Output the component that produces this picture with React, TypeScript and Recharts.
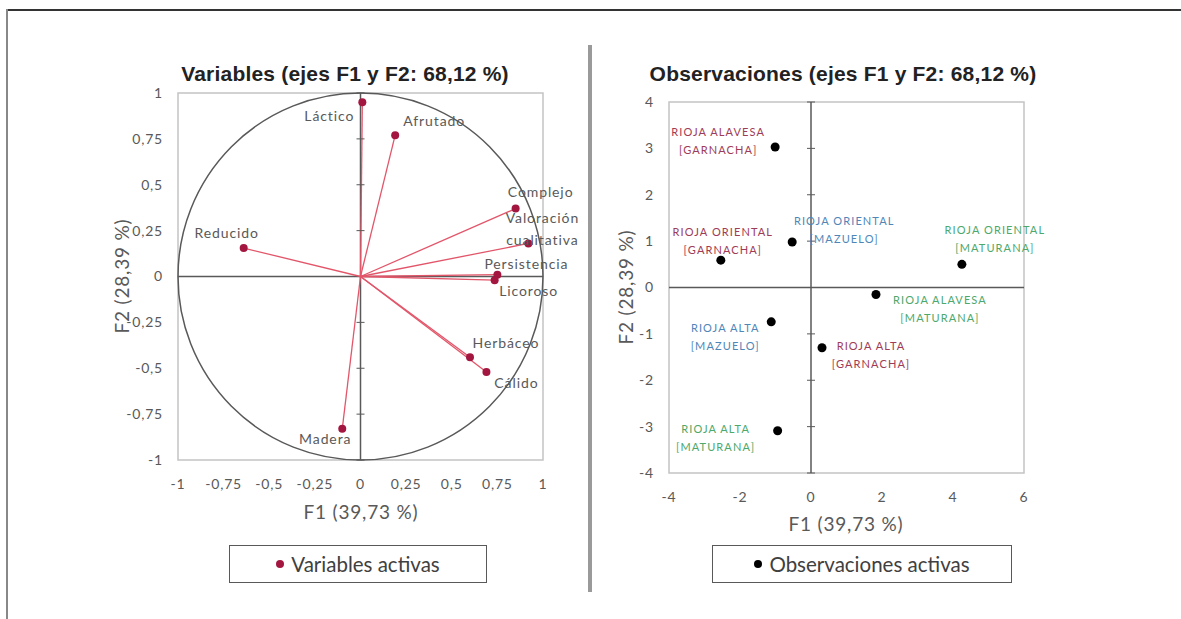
import { ScatterChart, Scatter, XAxis, YAxis, ReferenceLine, ReferenceArea, ReferenceDot } from 'recharts'

// PCA circle of correlations (variables)
const variableNames = ['Láctico', 'Afrutado', 'Complejo', 'Valoración cualitativa', 'Persistencia', 'Licoroso', 'Reducido', 'Herbáceo', 'Cálido', 'Madera']
const variableF1 = [0.01, 0.19, 0.85, 0.92, 0.75, 0.735, -0.64, 0.6, 0.69, -0.1]
const variableF2 = [0.95, 0.77, 0.37, 0.18, 0.01, -0.02, 0.155, -0.44, -0.52, -0.83]

// observations (wines)
const obsRegions = ['RIOJA ALAVESA', 'RIOJA ORIENTAL', 'RIOJA ORIENTAL', 'RIOJA ORIENTAL', 'RIOJA ALAVESA', 'RIOJA ALTA', 'RIOJA ALTA', 'RIOJA ALTA']
const obsVarieties = ['GARNACHA', 'GARNACHA', 'MAZUELO', 'MATURANA', 'MATURANA', 'MAZUELO', 'GARNACHA', 'MATURANA']
const obsF1 = [-1.01, -2.54, -0.53, 4.25, 1.83, -1.12, 0.31, -0.94]
const obsF2 = [3.03, 0.59, 0.98, 0.5, -0.15, -0.74, -1.3, -3.09]

const varTicks = [-1, -0.75, -0.5, -0.25, 0, 0.25, 0.5, 0.75, 1]
const obsXTicks = [-4, -2, 0, 2, 4, 6]
const obsYTicks = [-4, -3, -2, -1, 0, 1, 2, 3, 4]

const TITLE_LEFT = 'Variables (ejes F1 y F2: 68,12 %)'
const TITLE_RIGHT = 'Observaciones (ejes F1 y F2: 68,12 %)'
const X_TITLE = 'F1 (39,73 %)'
const Y_TITLE = 'F2 (28,39 %)'

const varData = variableNames.map((name, i) => ({ name, x: variableF1[i], y: variableF2[i] }))
const obsData = obsRegions.map((region, i) => ({
  region,
  variety: obsVarieties[i],
  x: obsF1[i],
  y: obsF2[i],
}))

// label placement relative to the dot (style, not data)
const varLabelPos: Record<string, [number, number]> = {
  'Láctico': [-33, 13],
  'Afrutado': [39, -15],
  'Complejo': [25, -17],
  'Valoración cualitativa': [14, -26],
  'Persistencia': [29, -11],
  'Licoroso': [34, 10],
  'Reducido': [-17, -16],
  'Herbáceo': [36, -15],
  'Cálido': [30, 11],
  'Madera': [-17, 10],
}
const obsLabelPos: Record<string, [number, number]> = {
  'RIOJA ALAVESA GARNACHA': [-57, -15],
  'RIOJA ORIENTAL GARNACHA': [2, -29],
  'RIOJA ORIENTAL MAZUELO': [52, -22],
  'RIOJA ORIENTAL MATURANA': [33, -35],
  'RIOJA ALAVESA MATURANA': [64, 5],
  'RIOJA ALTA MAZUELO': [-46, 6],
  'RIOJA ALTA GARNACHA': [49, -2],
  'RIOJA ALTA MATURANA': [-62, -2],
}
const varietyColors: Record<string, string> = {
  GARNACHA: '#9E3B56',
  MAZUELO: '#4F86B8',
  MATURANA: '#4DA86B',
}

const GRAY = '#595959'
const FONT = 'Lato, "Open Sans", sans-serif'
const fmt = (v: number) => String(v).replace('.', ',')

const VarDot = (props: any) => {
  const { cx, cy, payload } = props
  const [dx, dy] = varLabelPos[payload.name] || [0, 0]
  const lines = payload.name.split(' ')
  return (
    <g>
      <circle cx={cx} cy={cy} r={4} fill="#A3163F" />
      {lines.map((l: string, i: number) => (
        <text key={i} x={cx + dx} y={cy + dy + i * 22} textAnchor="middle" dominantBaseline="central"
          fontSize={14} letterSpacing={0.9} fill={GRAY} fontFamily={FONT}>{l}</text>
      ))}
    </g>
  )
}

const ObsDot = (props: any) => {
  const { cx, cy, payload } = props
  const [dx, dy] = obsLabelPos[`${payload.region} ${payload.variety}`] || [0, 0]
  const color = varietyColors[payload.variety]
  return (
    <g>
      <circle cx={cx} cy={cy} r={4.5} fill="#000" />
      <text x={cx + dx} y={cy + dy} textAnchor="middle" dominantBaseline="central" fontSize={11}
        letterSpacing={1.1} fill={color} fontFamily={FONT}>{payload.region}</text>
      <text x={cx + dx} y={cy + dy + 18} textAnchor="middle" dominantBaseline="central" fontSize={11}
        letterSpacing={1.1} fill={color} fontFamily={FONT}>[{payload.variety}]</text>
    </g>
  )
}

const axisTick = { fill: GRAY, fontSize: 14, fontFamily: FONT, letterSpacing: 0.8 }

const Legend = ({ left, width, color, label }: { left: number; width: number; color: string; label: string }) => (
  <div style={{
    position: 'absolute', left, top: 545, width, height: 38, boxSizing: 'border-box',
    border: `1.5px solid ${GRAY}`, display: 'flex', alignItems: 'center', justifyContent: 'center',
    fontFamily: FONT, fontSize: 20.5, color: '#404040',
  }}>
    <span style={{ width: 8, height: 8, borderRadius: 4, background: color, marginRight: 7 }} />
    {label}
  </div>
)

const titleStyle = (cx: number): any => ({
  position: 'absolute', left: cx - 260, width: 520, top: 62, textAlign: 'center',
  fontFamily: '"Liberation Sans", Arial, sans-serif', fontWeight: 'bold', fontSize: 21, letterSpacing: 0.2, color: '#222',
})
const xTitleStyle = (cx: number, top: number): any => ({
  position: 'absolute', left: cx - 100, width: 200, top, textAlign: 'center',
  fontFamily: FONT, fontSize: 19, letterSpacing: 0.8, color: GRAY,
})
const yTitleStyle = (cx: number, cy: number): any => ({
  position: 'absolute', left: cx - 100, width: 200, top: cy - 12, textAlign: 'center',
  fontFamily: FONT, fontSize: 19, letterSpacing: 0.8, color: GRAY, transform: 'rotate(-90deg)', lineHeight: '24px',
})

export default function App() {
  return (
    <div style={{ position: 'absolute', left: 0, top: 0, width: 1181, height: 619, background: '#fff', overflow: 'hidden' }}>
      {/* frame */}
      <div style={{ position: 'absolute', left: 6, top: 9, width: 1175, height: 2, background: '#333' }} />
      <div style={{ position: 'absolute', left: 6, top: 9, width: 2, height: 610, background: '#888' }} />
      <div style={{ position: 'absolute', left: 588, top: 45, width: 4, height: 547, background: '#9a9a9a' }} />

      <div style={titleStyle(345)}>{TITLE_LEFT}</div>
      <div style={titleStyle(843)}>{TITLE_RIGHT}</div>

      <div style={{ position: 'absolute', left: 0, top: 0 }}>
        <ScatterChart width={591} height={600} margin={{ top: 93, right: 48, bottom: 110, left: 118 }}>
          <XAxis type="number" dataKey="x" domain={[-1, 1]} ticks={varTicks} tickFormatter={fmt}
            axisLine={false} tickLine={false} tickMargin={13} height={30} tick={axisTick} />
          <YAxis type="number" dataKey="y" domain={[-1, 1]} ticks={varTicks} tickFormatter={fmt}
            axisLine={false} tickLine={false} tickMargin={9} width={60} tick={axisTick} />
          <ReferenceArea x1={-1} x2={1} y1={-1} y2={1} fill="none" fillOpacity={0} stroke="#c4c4c4" strokeWidth={1.5} />
          <ReferenceLine x={0} stroke={GRAY} strokeWidth={1.5} />
          <ReferenceLine y={0} stroke={GRAY} strokeWidth={1.5} />
          <ReferenceArea x1={-1} x2={1} y1={-1} y2={1}
            shape={(p: any) => (
              <ellipse cx={p.x + p.width / 2} cy={p.y + p.height / 2} rx={p.width / 2} ry={p.height / 2}
                fill="none" stroke={GRAY} strokeWidth={1.5} />
            )} />
          {varTicks.filter((t) => t !== 0).map((t) => (
            <ReferenceDot key={t} x={0} y={t}
              shape={(p: any) => <line x1={p.cx - 4} x2={p.cx + 4} y1={p.cy} y2={p.cy} stroke={GRAY} strokeWidth={1} />} />
          ))}
          {varData.map((d) => (
            <ReferenceLine key={d.name} segment={[{ x: 0, y: 0 }, { x: d.x, y: d.y }]} stroke="#E2566A" strokeWidth={1.3} />
          ))}
          <Scatter data={varData} shape={VarDot} isAnimationActive={false} />
        </ScatterChart>
      </div>

      <div style={{ position: 'absolute', left: 591, top: 0 }}>
        <ScatterChart width={590} height={600} margin={{ top: 102, right: 157, bottom: 97, left: 38 }}>
          <XAxis type="number" dataKey="x" domain={[-4, 6]} ticks={obsXTicks}
            axisLine={false} tickLine={false} tickMargin={13} height={30} tick={axisTick} />
          <YAxis type="number" dataKey="y" domain={[-4, 4]} ticks={obsYTicks}
            axisLine={false} tickLine={false} tickMargin={9} width={40} tick={axisTick} />
          <ReferenceArea x1={-4} x2={6} y1={-4} y2={4} fill="none" fillOpacity={0} stroke="#c4c4c4" strokeWidth={1.5} />
          <ReferenceLine x={0} stroke={GRAY} strokeWidth={1.5} />
          <ReferenceLine y={0} stroke={GRAY} strokeWidth={1.5} />
          {obsYTicks.filter((t) => t !== 0).map((t) => (
            <ReferenceDot key={t} x={0} y={t}
              shape={(p: any) => <line x1={p.cx - 4} x2={p.cx + 4} y1={p.cy} y2={p.cy} stroke={GRAY} strokeWidth={1} />} />
          ))}
          <Scatter data={obsData} shape={ObsDot} isAnimationActive={false} />
        </ScatterChart>
      </div>

      <div style={xTitleStyle(361, 500)}>{X_TITLE}</div>
      <div style={yTitleStyle(122, 276)}>{Y_TITLE}</div>
      <div style={xTitleStyle(846, 512)}>{X_TITLE}</div>
      <div style={yTitleStyle(626, 287)}>{Y_TITLE}</div>

      <Legend left={229} width={258} color="#A3163F" label="Variables activas" />
      <Legend left={712} width={300} color="#000" label="Observaciones activas" />
    </div>
  )
}
